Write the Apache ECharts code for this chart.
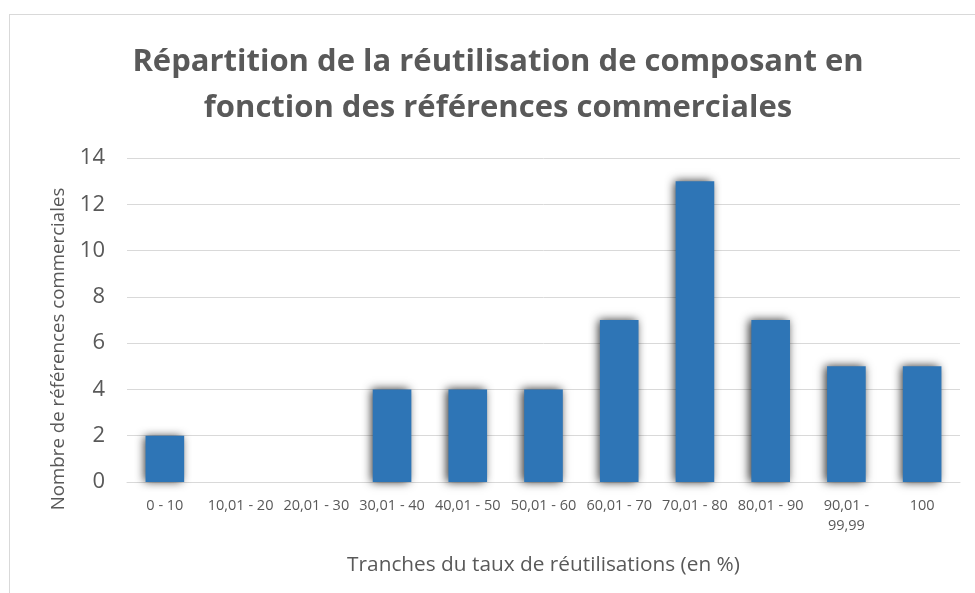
<!DOCTYPE html>
<html>
<head>
<meta charset="utf-8">
<script src="https://cdn.jsdelivr.net/npm/echarts@6/dist/echarts.min.js"></script>
<style>
  html, body { margin: 0; padding: 0; background: #fff; }
  #frame { position: absolute; left: 9px; top: 14px; width: 980px; height: 590px; border: 1px solid #D9D9D9; box-sizing: border-box; }
  #chart { position: absolute; left: 0; top: 0; width: 975px; height: 593px; }
</style>
</head>
<body>
<div id="frame"></div>
<div id="chart"></div>
<script>
// Share of commercial references per component reuse-rate bracket
const categories = ['0 - 10', '10,01 - 20', '20,01 - 30', '30,01 - 40', '40,01 - 50', '50,01 - 60',
                    '60,01 - 70', '70,01 - 80', '80,01 - 90', '90,01 - 99,99', '100'];
const counts = [2, 0, 0, 4, 4, 4, 7, 13, 7, 5, 5];
const yTicks = { min: 0, max: 14, interval: 2 };

const textColor = '#595959';
const fontFamily = '"Open Sans", sans-serif';

const chart = echarts.init(document.getElementById('chart'));
chart.setOption({
  animation: false,
  grid: { left: 127, right: 15, top: 158, bottom: 111 },
  graphic: [{
    // two-line chart title
    type: 'text',
    x: 498,
    y: 85,
    style: {
      text: 'Répartition de la réutilisation de composant en\nfonction des références commerciales',
      font: 'bold 31px "Open Sans", sans-serif',
      lineHeight: 46,
      fill: textColor,
      textAlign: 'center',
      textVerticalAlign: 'middle'
    }
  }, {
    // value-axis title
    type: 'text',
    x: 59,
    y: 349,
    rotation: Math.PI / 2,
    style: {
      text: 'Nombre de références commerciales',
      font: '18.7px "Open Sans", sans-serif',
      fill: textColor,
      textAlign: 'center',
      textVerticalAlign: 'middle'
    }
  }],
  xAxis: {
    type: 'category',
    data: categories,
    name: 'Tranches du taux de réutilisations (en %)',
    nameLocation: 'middle',
    nameGap: 73,
    nameTextStyle: { fontFamily, fontSize: 20.8, color: textColor },
    axisLine: { lineStyle: { color: '#D9D9D9', width: 1 } },
    axisTick: { show: false },
    axisLabel: {
      fontFamily, fontSize: 14.5, color: textColor, margin: 14,
      interval: 0, lineHeight: 20,
      // long bracket names wrap after the dash
      formatter: v => v.length > 10 ? v.replace('- ', '-\n') : v
    }
  },
  yAxis: {
    type: 'value',
    min: yTicks.min, max: yTicks.max, interval: yTicks.interval,
    axisLabel: { fontFamily, fontSize: 22, color: textColor, margin: 22 },
    splitLine: { lineStyle: { color: '#D9D9D9', width: 1 } },
    axisLine: { show: false },
    axisTick: { show: false }
  },
  series: [{
    type: 'bar',
    data: counts,
    barWidth: '51%',
    itemStyle: {
      color: '#2E75B6',
      shadowColor: 'rgba(0,0,0,0.8)',
      shadowBlur: 9,
      shadowOffsetX: -2
    }
  }]
});
</script>
</body>
</html>
